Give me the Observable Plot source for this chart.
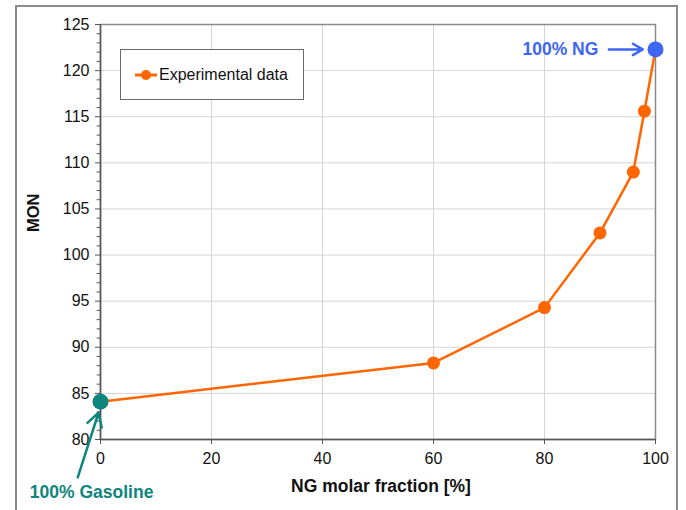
<!DOCTYPE html>
<html><head><meta charset="utf-8">
<script src="https://cdn.jsdelivr.net/npm/d3@7"></script>
<script src="https://cdn.jsdelivr.net/npm/@observablehq/plot@0.6"></script>
<style>
body{margin:0;background:#fff;font-family:"Liberation Sans",Arial,sans-serif;}
#wrap{position:relative;width:686px;height:510px;overflow:hidden;}
#outer{position:absolute;left:15px;top:5px;width:663px;height:520px;border:2px solid #8a8a8a;box-sizing:border-box;}
#legend{position:absolute;left:120px;top:49px;width:184px;height:51px;border:1.5px solid #6a6a6a;box-sizing:border-box;background:#fff;display:flex;align-items:center;font-size:16px;color:#111;}
#legend svg{margin-left:13px;margin-right:1px;}
</style></head>
<body><div id="wrap"><div id="outer"></div><div id="chart"></div>
<div id="legend"><svg width="24" height="12"><line x1="1" y1="6" x2="23" y2="6" stroke="#ff6600" stroke-width="3"/><circle cx="12" cy="6" r="5" fill="#ff6600"/></svg>Experimental data</div>
</div>
<script>
const ngFraction = [0, 60, 80, 90, 96, 98, 100];
const mon = [84.1, 88.3, 94.3, 102.4, 109.0, 115.6, 122.3];
const xTicks = [0, 20, 40, 60, 80, 100];
const yTicks = [80, 85, 90, 95, 100, 105, 110, 115, 120, 125];
const yMinor = d3.range(80, 126, 1).filter(v => v % 5 !== 0);
const endpointLabels = ["100% Gasoline", "100% NG"];

const data = ngFraction.map((x, i) => ({x, y: mon[i]}));
const gas = data[0], ng = data[data.length - 1];

const chart = Plot.plot({
  width: 686, height: 510,
  marginLeft: 100, marginRight: 31, marginTop: 24, marginBottom: 71,
  style: {fontFamily: "'Liberation Sans', Arial, sans-serif", fontSize: "16px", color: "#111", background: "transparent"},
  x: {domain: [0, 100], ticks: xTicks},
  y: {domain: [80, 125], ticks: yTicks},
  marks: [
    Plot.gridX(xTicks, {stroke: "#d4d4d4", strokeOpacity: 1, strokeWidth: 1}),
    Plot.gridY(yTicks, {stroke: "#d4d4d4", strokeOpacity: 1, strokeWidth: 1}),
    Plot.frame({stroke: "#8a8a8a", strokeWidth: 1.5}),
    Plot.ruleX([0], {stroke: "#555", strokeWidth: 1.5}),
    Plot.ruleY([80], {stroke: "#555", strokeWidth: 1.5}),
    Plot.ruleY(yMinor, {x1: -0.6, x2: 0, stroke: "#555", strokeWidth: 1}),
    Plot.axisY(yTicks, {tickSize: 5, tickPadding: 6, stroke: "#555", fontSize: 16, label: null}),
    Plot.axisX(xTicks, {tickSize: 5, tickPadding: 8, stroke: "#555", fontSize: 16, label: null}),
    Plot.text(["MON"], {frameAnchor: "left", dx: -67, rotate: -90, fontWeight: "bold", fontSize: 16.5}),
    Plot.text(["NG molar fraction [%]"], {frameAnchor: "bottom", dy: 52, dx: 3, fontWeight: "bold", fontSize: 17.5}),
    Plot.line(data, {x: "x", y: "y", stroke: "#ff6600", strokeWidth: 2.5}),
    Plot.dot(data.slice(1, -1), {x: "x", y: "y", r: 6.5, fill: "#ff6600"}),
    Plot.dot([gas], {x: "x", y: "y", r: 8, fill: "#0e857c"}),
    Plot.dot([ng], {x: "x", y: "y", r: 8, fill: "#3d66f2"}),
    Plot.arrow([{x1: 91.6, y1: ng.y, x2: 97.7, y2: ng.y}], {x1: "x1", y1: "y1", x2: "x2", y2: "y2", stroke: "#3d66f2", strokeWidth: 2.5, headLength: 9}),
    Plot.text([endpointLabels[1]], {x: () => 89.7, y: () => ng.y, textAnchor: "end", fill: "#3d66f2", fontWeight: "bold", fontSize: 17.5}),
    Plot.arrow([{x1: -4.1, y1: 75.9, x2: -0.35, y2: 82.9}], {x1: "x1", y1: "y1", x2: "x2", y2: "y2", stroke: "#0e857c", strokeWidth: 2.5, headLength: 9}),
    Plot.text([endpointLabels[0]], {x: () => -1.6, y: () => 74.3, fill: "#0e857c", fontWeight: "bold", fontSize: 17.5})
  ]
});
document.getElementById("chart").appendChild(chart);
</script></body></html>
